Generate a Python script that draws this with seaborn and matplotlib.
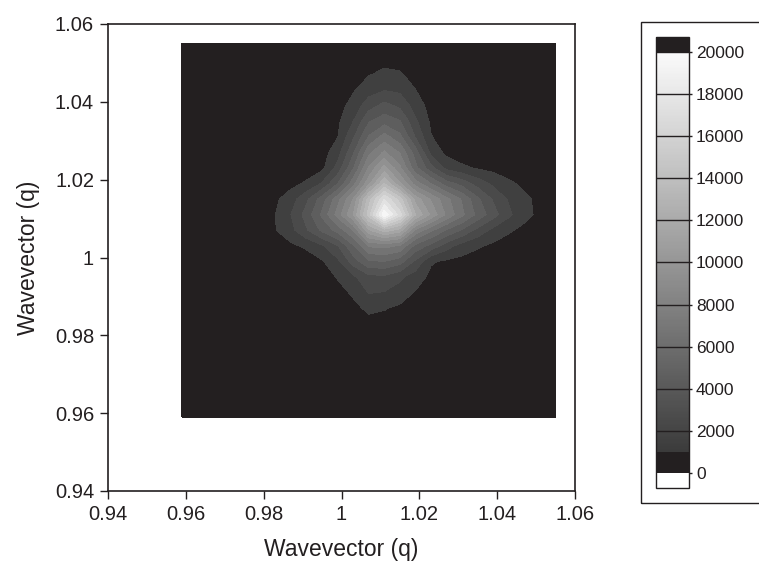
import numpy as np
import matplotlib
matplotlib.use("Agg")
import matplotlib.pyplot as plt
from matplotlib.colors import ListedColormap, Normalize
from matplotlib.cm import ScalarMappable
from matplotlib.patches import Rectangle
from matplotlib.ticker import FuncFormatter
import seaborn as sns

# ---- data ---------------------------------------------------------------
# measurement grid in both wavevector directions
qx = np.linspace(0.959, 1.055, 25)
qy = np.linspace(0.959, 1.055, 25)

# scattered intensity, rows listed from the top (qy = 1.055) down to qy = 0.959
intensity_rows = [
    [0, 0, 0, 0, 0, 0, 0, 10, 30, 80, 140, 260, 360, 430, 400, 300, 170, 80, 30, 10, 0, 0, 0, 0, 0],
    [0, 0, 0, 0, 0, 0, 5, 20, 45, 100, 200, 400, 590, 720, 660, 450, 240, 110, 50, 20, 5, 0, 0, 0, 0],
    [0, 0, 0, 0, 0, 5, 10, 20, 55, 120, 290, 600, 950, 1200, 1100, 680, 330, 130, 55, 25, 10, 5, 0, 0, 0],
    [0, 0, 0, 0, 5, 10, 15, 30, 60, 170, 410, 900, 1570, 1960, 1800, 1020, 450, 175, 70, 35, 15, 10, 5, 0, 0],
    [0, 0, 0, 5, 10, 15, 20, 50, 90, 220, 590, 1380, 2560, 3320, 2780, 1540, 630, 220, 105, 50, 20, 10, 5, 5, 0],
    [0, 0, 5, 5, 10, 15, 25, 55, 120, 270, 800, 1990, 3900, 4570, 4070, 2180, 820, 310, 125, 75, 45, 20, 10, 5, 5],
    [0, 5, 5, 10, 10, 15, 30, 70, 170, 400, 970, 2840, 5080, 6410, 5280, 2930, 1060, 400, 230, 130, 100, 80, 60, 45, 30],
    [5, 5, 10, 15, 15, 35, 65, 105, 220, 590, 1550, 3830, 6740, 8170, 6920, 4500, 1700, 740, 420, 310, 240, 170, 140, 110, 90],
    [10, 15, 20, 35, 60, 95, 140, 260, 440, 750, 2360, 4880, 8130, 10350, 8200, 5300, 3330, 1700, 1200, 900, 690, 520, 390, 280, 190],
    [20, 35, 55, 90, 140, 240, 410, 690, 1160, 2100, 3960, 6610, 9720, 13000, 10120, 7520, 5980, 4480, 3600, 2570, 1770, 1180, 790, 520, 340],
    [35, 55, 85, 130, 250, 440, 820, 1540, 2780, 4480, 6610, 9030, 13500, 17000, 14500, 10580, 8860, 7300, 5870, 4210, 2870, 1870, 1200, 750, 480],
    [40, 70, 120, 200, 360, 600, 1000, 2000, 3400, 5200, 7400, 10000, 14500, 19800, 16500, 12000, 9800, 7800, 6200, 4700, 3400, 2200, 1300, 760, 480],
    [35, 60, 100, 160, 300, 540, 950, 1700, 2880, 4210, 5350, 7020, 10800, 12500, 11500, 7820, 6210, 4890, 3870, 2660, 1700, 1130, 740, 480, 310],
    [30, 50, 85, 140, 220, 360, 540, 800, 1200, 1870, 2930, 4860, 7130, 7300, 6900, 4700, 3690, 2440, 1540, 1140, 800, 560, 390, 260, 160],
    [10, 20, 35, 55, 90, 140, 220, 300, 420, 900, 1780, 3460, 4860, 5000, 4430, 2800, 1100, 850, 700, 460, 300, 220, 160, 110, 80],
    [0, 5, 10, 20, 30, 55, 95, 130, 270, 500, 1080, 1800, 2700, 2750, 2200, 1500, 760, 320, 280, 190, 130, 90, 60, 40, 25],
    [0, 0, 5, 10, 10, 20, 45, 80, 150, 290, 640, 1160, 2050, 1950, 1580, 920, 450, 200, 105, 60, 35, 20, 10, 5, 0],
    [0, 0, 0, 5, 10, 20, 45, 80, 130, 210, 370, 720, 1230, 1080, 800, 490, 270, 130, 80, 45, 25, 10, 5, 0, 0],
    [0, 0, 0, 0, 5, 10, 25, 50, 80, 130, 210, 440, 640, 560, 420, 270, 160, 95, 55, 30, 15, 5, 0, 0, 0],
    [0, 0, 0, 0, 0, 5, 10, 25, 45, 75, 120, 260, 340, 290, 240, 140, 100, 55, 30, 15, 5, 0, 0, 0, 0],
    [0, 0, 0, 0, 0, 0, 5, 15, 25, 40, 70, 140, 180, 150, 120, 80, 55, 30, 15, 5, 0, 0, 0, 0, 0],
    [0, 0, 0, 0, 0, 0, 0, 5, 15, 25, 45, 80, 100, 85, 65, 45, 30, 15, 5, 0, 0, 0, 0, 0, 0],
    [0, 0, 0, 0, 0, 0, 0, 0, 5, 15, 30, 50, 60, 50, 35, 25, 15, 5, 0, 0, 0, 0, 0, 0, 0],
    [0, 0, 0, 0, 0, 0, 0, 0, 5, 10, 20, 30, 35, 30, 20, 15, 10, 5, 0, 0, 0, 0, 0, 0, 0],
    [0, 0, 0, 0, 0, 0, 0, 0, 0, 5, 10, 20, 20, 15, 10, 5, 5, 0, 0, 0, 0, 0, 0, 0, 0],
]

contour_levels = list(range(0, 20001, 1000))
colorbar_ticks = list(range(0, 20001, 2000))
tick_values = [0.94, 0.96, 0.98, 1.0, 1.02, 1.04, 1.06]
axis_label = "Wavevector (q)"

# ---- style --------------------------------------------------------------
sns.set_style("white")
plt.rcParams["font.family"] = ["Liberation Sans", "DejaVu Sans"]
ink = "#231f20"
plt.rcParams["text.color"] = ink
plt.rcParams["axes.labelcolor"] = ink
plt.rcParams["xtick.color"] = ink
plt.rcParams["ytick.color"] = ink

# grey scale: lowest band dark, then a ramp from dark grey to white
ramp = sns.blend_palette(["#3b3b3b", "#fbfbfb"], n_colors=380)
cmap = ListedColormap([ink] * 20 + [tuple(c) for c in ramp])
cmap.set_under("white")
cmap.set_over(ink)
norm = Normalize(vmin=0, vmax=20000)

Z = np.array(intensity_rows, dtype=float)[::-1]

fig = plt.figure(figsize=(7.59, 5.67), dpi=100)
ax = fig.add_axes([108 / 759, 1 - 491 / 567, 467 / 759, 467 / 567])

ax.contourf(qx, qy, Z, levels=contour_levels, cmap=cmap, norm=norm)

ax.set_xlim(0.94, 1.06)
ax.set_ylim(0.94, 1.06)
ax.set_xticks(tick_values)
ax.set_yticks(tick_values)
fmt = FuncFormatter(lambda v, p: f"{v:g}")
ax.xaxis.set_major_formatter(fmt)
ax.yaxis.set_major_formatter(fmt)
ax.tick_params(axis="both", direction="out", length=6, width=1.0,
               labelsize=14.5, pad=4, bottom=True, left=True, top=False, right=False)
for sp in ax.spines.values():
    sp.set_color(ink)
    sp.set_linewidth(1.2)
ax.set_xlabel(axis_label, fontsize=16.5, labelpad=10)
ax.set_ylabel(axis_label, fontsize=16.5, labelpad=11)

# ---- colour bar ---------------------------------------------------------
cax = fig.add_axes([656 / 759, 1 - 488 / 567, 33 / 759, 451 / 567])
sm = ScalarMappable(norm=norm, cmap=cmap)
cbar = fig.colorbar(sm, cax=cax, extend="both", extendrect=True,
                    extendfrac=0.0355, ticks=colorbar_ticks)
for t in colorbar_ticks:
    cax.axhline(t, color=ink, lw=1.0)
cax.tick_params(direction="out", length=2, width=1.0, labelsize=12.5, pad=3,
                colors=ink)
cbar.outline.set_edgecolor(ink)
cbar.outline.set_linewidth(1.0)

# frame around the colour bar
fig.add_artist(Rectangle((641 / 759, 1 - 503 / 567), 0.3, 481 / 567,
                         transform=fig.transFigure, fill=False,
                         edgecolor=ink, lw=1.0))

fig.savefig("out.png", dpi=100)
